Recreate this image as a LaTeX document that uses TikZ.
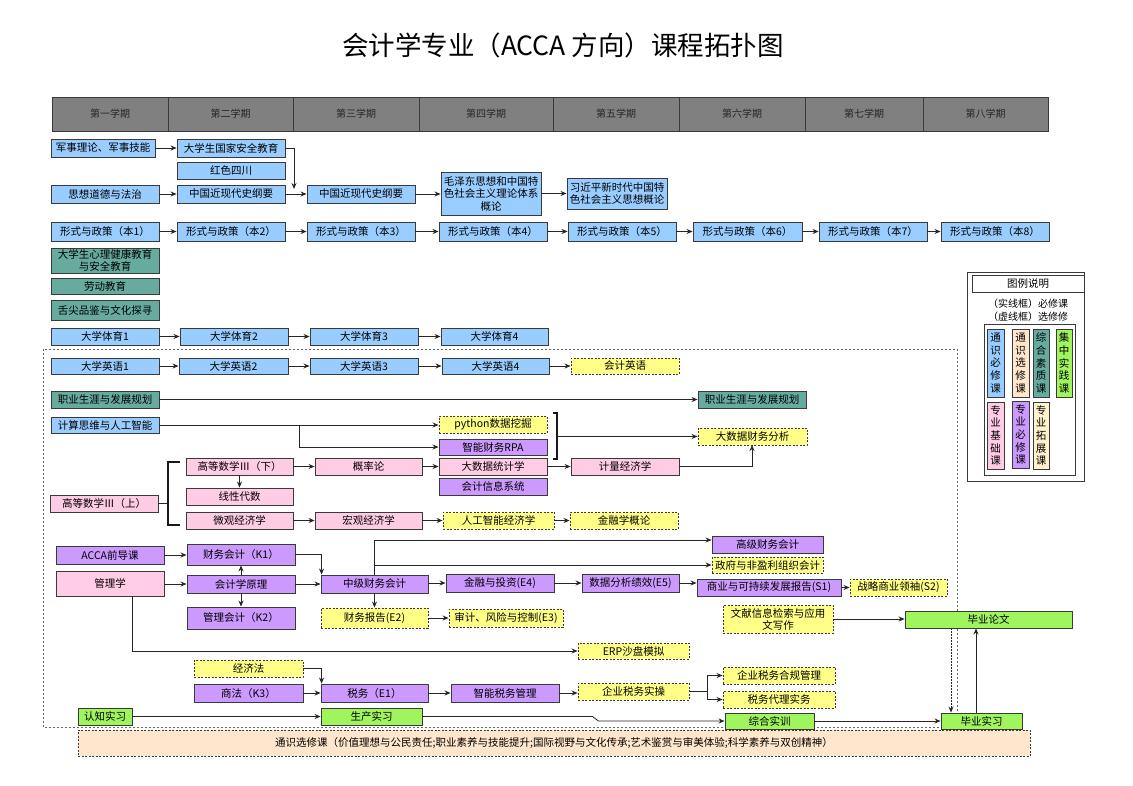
\documentclass[tikz,border=0pt]{standalone}
\usepackage{fontspec}
\setmainfont{Noto Sans CJK SC}
\usetikzlibrary{arrows.meta}
\definecolor{bd}{HTML}{3A3A3A}
\definecolor{cblue}{HTML}{99CCFF}
\definecolor{cteal}{HTML}{67AB9F}
\definecolor{cpink}{HTML}{FFCCE6}
\definecolor{cpurp}{HTML}{CC99FF}
\definecolor{cyel}{HTML}{FFFF88}
\definecolor{cgreen}{HTML}{A0F55F}
\definecolor{cpeach}{HTML}{FFE6CC}
\definecolor{ccream}{HTML}{FFF2CC}
\definecolor{chdr}{HTML}{808080}
\newcommand{\fsz}{\fontsize{10.5}{12.5}\selectfont}
\newcommand{\mybox}[7]{\node[#6, minimum width={#4-#2}, minimum height={#5-#3}] (#1) at ({(#2+#4)/2},{(#3+#5)/2}) {#7};}
\tikzset{
  box/.style={draw=bd, line width=0.9pt, inner sep=0pt, align=center, font=\fsz, text=black},
  hdr/.style={box, fill=chdr, font=\fontsize{10}{12}\selectfont, text=black!85},
  sblue/.style={box, fill=cblue},
  steal/.style={box, fill=cteal},
  spink/.style={box, fill=cpink},
  spurp/.style={box, fill=cpurp},
  sgreen/.style={box, fill=cgreen},
  syel/.style={box, fill=cyel, dash pattern=on 2pt off 1.5pt},
  arr/.style={draw=black!85, line width=0.8pt, -{Stealth[length=6pt,width=5pt]}},
  ln/.style={draw=black!85, line width=0.8pt},
  brk/.style={draw=black!90, line width=1.4pt},
  vleg/.style={box, font=\fontsize{10.5}{12.6}\selectfont},
}
\begin{document}
\begin{tikzpicture}[x=1pt,y=-1pt]
\useasboundingbox[fill=white] (0,0) rectangle (1133,785);
% title
\node (title) at (563,45) {\fontsize{26.5}{30}\selectfont 会计学专业（ACCA 方向）课程拓扑图};
% dotted frame
\draw[draw=black!60, line width=0.8pt, dash pattern=on 2pt off 2pt] (43,349) rectangle (957,727);
% header
\mybox{h1}{52}{97}{168}{131}{hdr}{第一学期}
\mybox{h2}{168}{97}{293}{131}{hdr}{第二学期}
\mybox{h3}{293}{97}{419}{131}{hdr}{第三学期}
\mybox{h4}{419}{97}{553}{131}{hdr}{第四学期}
\mybox{h5}{553}{97}{679}{131}{hdr}{第五学期}
\mybox{h6}{679}{97}{805}{131}{hdr}{第六学期}
\mybox{h7}{805}{97}{923}{131}{hdr}{第七学期}
\mybox{h8}{923}{97}{1048}{131}{hdr}{第八学期}
% general compulsory
\mybox{jsll}{51}{139}{155}{157}{sblue}{军事理论、军事技能}
\mybox{gaj}{177}{139}{285}{157}{sblue}{大学生国家安全教育}
\mybox{hs}{177}{162}{285}{179}{sblue}{红色四川}
\mybox{sx}{51}{185}{159}{203}{sblue}{思想道德与法治}
\mybox{zg1}{177}{185}{285}{203}{sblue}{中国近现代史纲要}
\mybox{zg2}{307}{185}{415}{203}{sblue}{中国近现代史纲要}
\mybox{mzd}{441}{172}{541}{215}{sblue}{毛泽东思想和中国特\\色社会主义理论体系\\概论}
\mybox{xjp}{567}{178}{667}{209}{sblue}{习近平新时代中国特\\色社会主义思想概论}
\mybox{xs1}{51}{222}{159}{241}{sblue}{形式与政策（本1）}
\mybox{xs2}{177}{222}{285}{241}{sblue}{形式与政策（本2）}
\mybox{xs3}{307}{222}{415}{241}{sblue}{形式与政策（本3）}
\mybox{xs4}{439}{222}{547}{241}{sblue}{形式与政策（本4）}
\mybox{xs5}{568}{222}{676}{241}{sblue}{形式与政策（本5）}
\mybox{xs6}{693}{222}{802}{241}{sblue}{形式与政策（本6）}
\mybox{xs7}{819}{222}{927}{241}{sblue}{形式与政策（本7）}
\mybox{xs8}{941}{222}{1049}{241}{sblue}{形式与政策（本8）}
\mybox{xl}{51}{248}{159}{273}{steal, font=\fontsize{10.5}{11.5}\selectfont}{大学生心理健康教育\\与安全教育}
\mybox{ld}{51}{278}{159}{294}{steal}{劳动教育}
\mybox{sj}{51}{300}{159}{320}{steal}{舌尖品鉴与文化探寻}
\mybox{ty1}{51}{328}{159}{345}{sblue}{大学体育1}
\mybox{ty2}{180}{328}{288}{345}{sblue}{大学体育2}
\mybox{ty3}{310}{328}{418}{345}{sblue}{大学体育3}
\mybox{ty4}{441}{328}{548}{345}{sblue}{大学体育4}
\mybox{yy1}{51}{358}{159}{374}{sblue}{大学英语1}
\mybox{yy2}{179}{358}{288}{374}{sblue}{大学英语2}
\mybox{yy3}{310}{358}{418}{374}{sblue}{大学英语3}
\mybox{yy4}{442}{358}{549}{374}{sblue}{大学英语4}
\mybox{kjyy}{571}{358}{679}{374}{syel}{会计英语}
\mybox{zy1}{51}{391}{159}{408}{steal}{职业生涯与发展规划}
\mybox{zy2}{698}{391}{806}{408}{steal}{职业生涯与发展规划}
\mybox{js}{51}{417}{159}{433}{sblue}{计算思维与人工智能}
\mybox{py}{439}{416}{547}{433}{syel}{python数据挖掘}
\mybox{rpa}{439}{439}{547}{455}{spurp}{智能财务RPA}
\mybox{dsjcw}{698}{428}{807}{445}{syel}{大数据财务分析}
\mybox{dtj}{439}{458}{547}{475}{spink}{大数据统计学}
\mybox{kjxx}{439}{478}{547}{495}{spurp}{会计信息系统}
\mybox{jl}{571}{458}{679}{475}{spink}{计量经济学}
\mybox{gs1}{50}{495}{158}{512}{spink}{高等数学Ⅲ（上）}
\mybox{gs2}{186}{458}{293}{475}{spink}{高等数学Ⅲ（下）}
\mybox{xd}{186}{488}{293}{505}{spink}{线性代数}
\mybox{wg}{186}{512}{293}{529}{spink}{微观经济学}
\mybox{gl}{315}{458}{422}{475}{spink}{概率论}
\mybox{hg}{315}{512}{422}{529}{spink}{宏观经济学}
\mybox{rgzn}{443}{512}{554}{529}{syel}{人工智能经济学}
\mybox{jrx}{570}{512}{678}{529}{syel}{金融学概论}
% ACCA section
\mybox{acca}{56}{546}{164}{564}{spurp}{ACCA前导课}
\mybox{glx}{56}{571}{164}{596}{spink}{管理学}
\mybox{k1}{187}{544}{295}{565}{spurp}{财务会计（K1）}
\mybox{kjyl}{187}{575}{295}{593}{spurp}{会计学原理}
\mybox{k2}{187}{607}{295}{629}{spurp}{管理会计（K2）}
\mybox{zj}{321}{575}{428}{593}{spurp}{中级财务会计}
\mybox{e2}{321}{608}{428}{628}{syel}{财务报告(E2)}
\mybox{e3}{449}{609}{563}{627}{syel}{审计、风险与控制(E3)}
\mybox{gj}{712}{536}{823}{553}{spurp}{高级财务会计}
\mybox{zf}{712}{557}{823}{573}{syel}{政府与非盈利组织会计}
\mybox{e4}{446}{574}{554}{592}{spurp}{金融与投资(E4)}
\mybox{e5}{582}{574}{679}{592}{spurp}{数据分析绩效(E5)}
\mybox{s1}{697}{579}{841}{596}{spurp}{商业与可持续发展报告(S1)}
\mybox{s2}{850}{579}{947}{596}{syel}{战略商业领袖(S2)}
\mybox{wx}{723}{605}{833}{633}{syel, font=\fontsize{10.5}{12}\selectfont}{文献信息检索与应用\\文写作}
\mybox{bylw}{905}{611}{1072}{628}{sgreen}{毕业论文}
\mybox{erp}{578}{643}{689}{659}{syel}{ERP沙盘模拟}
\mybox{jjf}{194}{660}{303}{677}{syel}{经济法}
\mybox{sf}{194}{684}{303}{702}{spurp}{商法（K3）}
\mybox{sw}{321}{684}{428}{702}{spurp}{税务（E1）}
\mybox{znsw}{451}{684}{559}{702}{spurp}{智能税务管理}
\mybox{qysc}{578}{683}{689}{700}{syel}{企业税务实操}
\mybox{hgl}{723}{667}{835}{684}{syel}{企业税务合规管理}
\mybox{dl}{723}{691}{835}{708}{syel}{税务代理实务}
\mybox{rz}{78}{708}{132}{725}{sgreen}{认知实习}
\mybox{sc}{321}{708}{422}{725}{sgreen}{生产实习}
\mybox{zh}{725}{713}{814}{729}{sgreen}{综合实训}
\mybox{bysx}{941}{713}{1022}{729}{sgreen}{毕业实习}
\mybox{bar}{78}{730}{1030}{756}{box, fill=cpeach, dash pattern=on 2pt off 1.5pt}{通识选修课（价值理想与公民责任;职业素养与技能提升;国际视野与文化传承;艺术鉴赏与审美体验;科学素养与双创精神）}
% legend
\draw[draw=bd, line width=0.9pt] (967,272) rectangle (1084,481);
\mybox{lgt}{972}{275}{1084}{292}{box, fill=white}{图例说明}
\node[font=\fontsize{10}{13.5}\selectfont, align=center] (lgtxt) at (1028,310) {（实线框）必修课\\（虚线框）选修修};
\draw[draw=bd, line width=0.9pt] (984,324) rectangle (1075,475);
\mybox{lg1}{987}{329}{1004}{397}{vleg, fill=cblue}{通\\识\\必\\修\\课}
\mybox{lg2}{1012}{329}{1029}{397}{vleg, fill=cpeach}{通\\识\\选\\修\\课}
\mybox{lg3}{1033}{329}{1049}{397}{vleg, fill=cteal}{综\\合\\素\\质\\课}
\mybox{lg4}{1056}{329}{1072}{397}{vleg, fill=cgreen}{集\\中\\实\\践\\课}
\mybox{lg5}{987}{402}{1004}{469}{vleg, fill=cpink}{专\\业\\基\\础\\课}
\mybox{lg6}{1012}{401}{1029}{468}{vleg, fill=cpurp}{专\\业\\必\\修\\课}
\mybox{lg7}{1033}{402}{1049}{469}{vleg, fill=ccream}{专\\业\\拓\\展\\课}
% connectors
\coordinate (c1) at (294,189);
\draw[arr] (jsll) -- (gaj);
\draw[arr] (gaj.east) -| (c1);
\draw[arr] (sx) -- (zg1);
\draw[arr] (zg1) -- (zg2);
\draw[arr] (zg2.east) -- (zg2.east -| mzd.west);
\draw[arr] (mzd.east |- xjp.west) -- (xjp.west);
\draw[arr] (xs1) -- (xs2);
\draw[arr] (xs2) -- (xs3);
\draw[arr] (xs3) -- (xs4);
\draw[arr] (xs4) -- (xs5);
\draw[arr] (xs5) -- (xs6);
\draw[arr] (xs6) -- (xs7);
\draw[arr] (xs7) -- (xs8);
\draw[arr] (ty1) -- (ty2);
\draw[arr] (ty2) -- (ty3);
\draw[arr] (ty3) -- (ty4);
\draw[arr] (yy1) -- (yy2);
\draw[arr] (yy2) -- (yy3);
\draw[arr] (yy3) -- (yy4);
\draw[arr] (yy4) -- (kjyy);
\draw[arr] (zy1) -- (zy2);
\draw[arr] (js.east) -- (js.east -| py.west);
\coordinate (c2) at (299,425);
\draw[arr] (c2) |- (rpa.west);
\draw[brk] (553,413) -- (557,413) -- (557,459) -- (553,459);
\coordinate (c3) at (557,436.5);
\draw[arr] (c3) -- (dsjcw.west);
\draw[ln] (gs1.east) -- (168,503.5);
\draw[brk] (180,462) -- (168,462) -- (168,525) -- (180,525);
\draw[arr] (gs2) -- (gl);
\draw[arr] (gs2) -- (xd);
\draw[arr] (gl) -- (dtj);
\draw[arr] (dtj) -- (jl);
\draw[arr] (jl.east) -| (752,445);
\draw[arr] (wg) -- (hg);
\draw[arr] (hg) -- (rgzn);
\draw[arr] (rgzn) -- (jrx);
\draw[arr] (acca.east) -- (acca.east -| k1.west);
\draw[arr] (glx.east |- kjyl.west) -- (kjyl.west);
\draw[arr] (kjyl) -- (k1);
\draw[arr] (kjyl) -- (k2);
\draw[arr] (k1.east) -| ([xshift=1pt]zj.north west);
\draw[arr] (kjyl) -- (zj);
\draw[arr] (zj) -- (e2);
\draw[arr] (e2.east) -- (e2.east -| e3.west);
\draw[arr] (zj.north) |- ([yshift=4.5pt]gj.west);
\draw[arr] (zj.north |- zf.west) -- (zf.west);
\draw[arr] (zj.east |- e4.west) -- (e4.west);
\draw[arr] (e4) -- (e5);
\draw[arr] (e5.east) -- (e5.east -| s1.west);
\draw[arr] (s1) -- (s2);
\draw[arr] (wx.east) -- (wx.east -| bylw.west);
\draw[arr] (glx.south -| 132,0) |- (erp.west);
\draw[arr] (jjf.east) -| ([xshift=1pt]sw.north west);
\draw[arr] (sf) -- (sw);
\draw[arr] (sw) -- (znsw);
\draw[arr] (znsw.east) -- (znsw.east -| qysc.west);
\draw[ln] (qysc.east) -- ++(18,0) coordinate (fk);
\draw[arr] (fk) |- (hgl.west);
\draw[arr] (fk) |- (dl.west);
\draw[arr] (rz) -- (sc);
\draw[arr] (sc.east) -- ++(170,0) -- ++(6,4.5) -- (zh.west);
\draw[arr] (zh) -- (bysx);
\draw[arr] ([xshift=-5.5pt]bysx.north) -- ([xshift=-12.5pt]bylw.south);
\draw[draw=black!85, line width=0.8pt, dash pattern=on 1.5pt off 1.5pt, -{Stealth[length=6pt,width=5pt]}] ([xshift=-37.5pt]bylw.south) -- ([xshift=-30.5pt]bysx.north);
\end{tikzpicture}
\end{document}
